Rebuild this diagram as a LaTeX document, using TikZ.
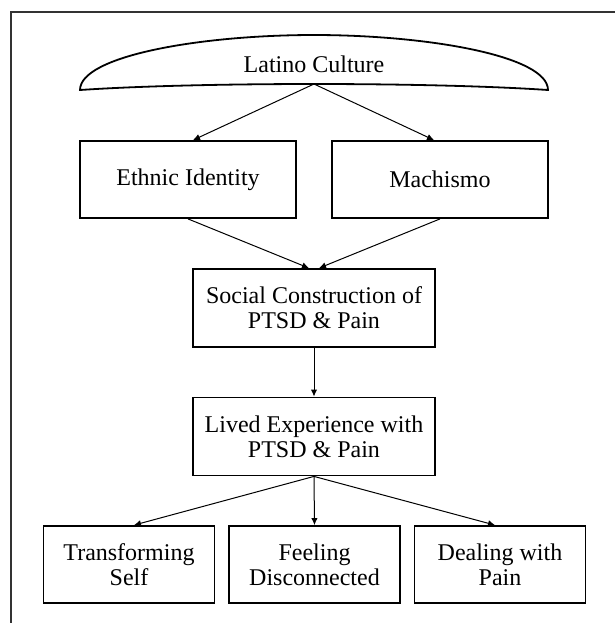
\documentclass[tikz,border=0pt]{standalone}
\usepackage{fontspec}
\setmainfont{Liberation Serif}
\usepackage{tikz}
\usetikzlibrary{arrows.meta}

\begin{document}
\begin{tikzpicture}[x=0.5pt, y=-0.5pt,
	textbox/.style={draw, line width=0.9pt, font=\fontsize{12}{12.5}\selectfont, align=center, inner sep=0, minimum height=38.5pt},
	widebox/.style={textbox, minimum width=108pt},
	midbox/.style={textbox, minimum width=121pt, minimum height=39pt},
	smallbox/.style={textbox, minimum width=85.5pt},
	link/.style={line width=0.5pt, -{Latex[length=3.5pt,width=3.2pt]}}
]
\useasboundingbox (0,0) rectangle (615,623);
\draw[line width=0.8pt, black!80] (615,12) -- (11,12) -- (11,623);

\draw[line width=0.9pt] (80,90) .. controls (80,56) and (200,35) .. (314,35)
	.. controls (428,35) and (548,56) .. (548,90)
	.. controls (430,82) and (198,82) .. cycle;
\node[font=\fontsize{12}{12.5}\selectfont] (lat) at (314,64) {Latino Culture};
\coordinate (latb) at (314,84);

\node[widebox] (eth) at (188,179.5) {Ethnic Identity};
\node[widebox] (mac) at (440,179.5) {Machismo};
\node[midbox] (soc) at (314,308) {Social Construction of\\PTSD \& Pain};
\node[midbox] (liv) at (314,436.5) {Lived Experience with\\PTSD \& Pain};
\node[smallbox] (trf) at (129,564.5) {Transforming\\Self};
\node[smallbox] (fee) at (314.5,564.5) {Feeling\\Disconnected};
\node[smallbox] (dea) at (500,564.5) {Dealing with\\Pain};

\draw[link] (latb) -- ([xshift=2.5pt]eth.north);
\draw[link] (latb) -- ([xshift=-3pt]mac.north);
\draw[link] (eth.south) -- ([xshift=-2.5pt]soc.north);
\draw[link] (mac.south) -- ([xshift=2.5pt]soc.north);
\draw[link] (soc.south) -- (liv.north);
\draw[link] (liv.south) -- ([xshift=2.5pt]trf.north);
\draw[link] (liv.south) -- (fee.north);
\draw[link] (liv.south) -- ([xshift=-2.5pt]dea.north);
\end{tikzpicture}
\end{document}
